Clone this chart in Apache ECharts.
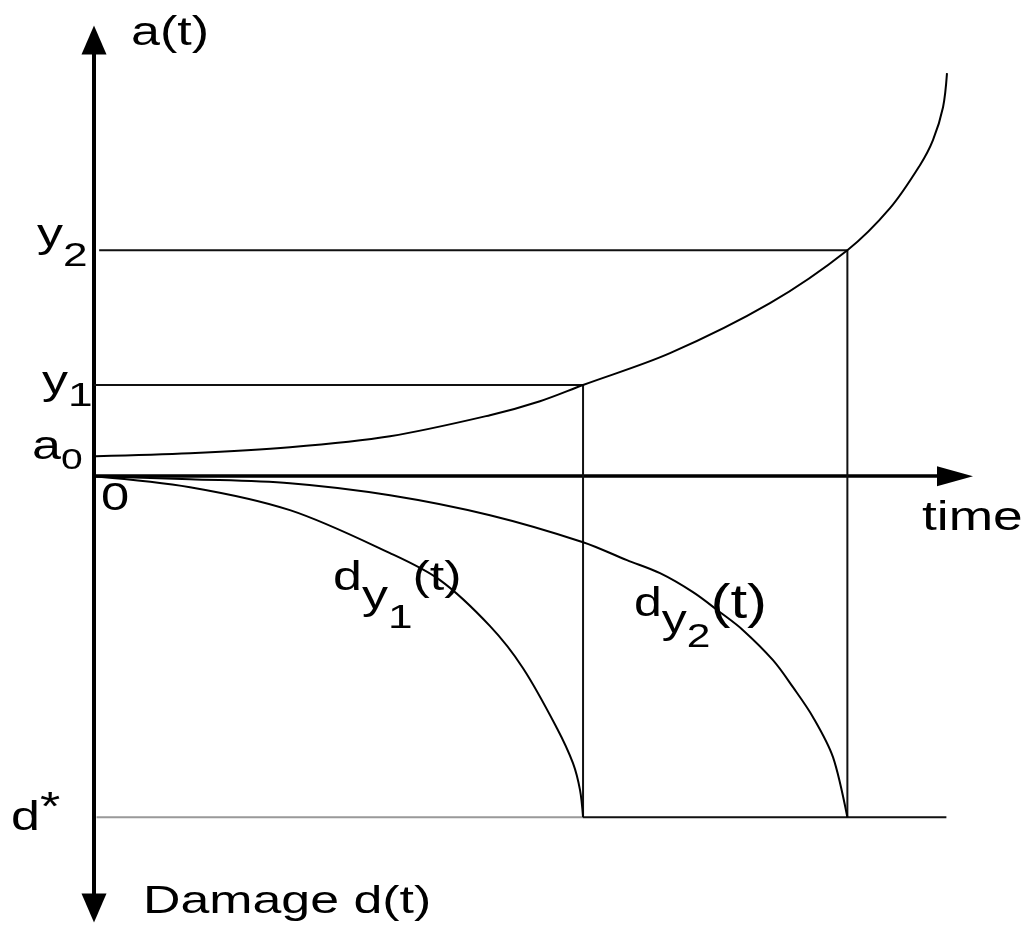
<!DOCTYPE html>
<html>
<head>
<meta charset="utf-8">
<script src="https://cdn.jsdelivr.net/npm/echarts@6/dist/echarts.min.js"></script>
<style>
html, body { margin: 0; padding: 0; background: #fff; }
#chart { width: 1028px; height: 926px; }
</style>
</head>
<body>
<div id="chart"></div>
<script>
// crack growth a(t)
const aTime  = [0.23, 11.15, 22.76, 34.38, 45.99, 51.8, 56.8, 66.9, 78.51, 87.5, 92.45, 95.93, 97.44, 98.61, 99.07];
const aLevel = [4.59, 5.27, 6.65, 9.17, 13.98, 17.19, 20.9, 28.2, 39.66, 51.8, 61.44, 71.3, 77.03, 84.59, 92.39];

// damage curves d_y1(t) and d_y2(t), drawn downward
const dy1Time  = [0, 11.15, 22.76, 34.38, 40.19, 46.0, 49.83, 53.77, 55.63, 56.45, 56.8];
const dy1Level = [0, -2.52, -7.79, -17.65, -23.84, -34.39, -44.02, -57.77, -65.8, -71.99, -78.2];
const dy2Time  = [0, 11.15, 22.76, 34.38, 45.99, 56.8, 61.9, 65.74, 69.57, 72.71, 75.38, 78.86, 81.18, 83.51, 85.83, 87.5];
const dy2Level = [0, -0.69, -1.6, -4.36, -8.94, -15.13, -19.26, -22.24, -26.59, -31.18, -35.3, -42.18, -48.37, -55.25, -64.42, -78.2];

// levels on the vertical axis and the times where the thresholds are hit
const levelNames  = ['a0', 'y1', 'y2', 'd*'];
const levelValues = [4.7, 20.9, 51.8, -78.2];
const hitTimes    = [56.8, 87.5];   // y1, y2
const lineEnd     = 99.0;

const A0 = levelValues[0], Y1 = levelValues[1], Y2 = levelValues[2], DSTAR = levelValues[3];

const chart = echarts.init(document.getElementById('chart'));
const font = '"Liberation Sans", Arial, sans-serif';
const ink = '#000';

function zip(xs, ys) { return xs.map((x, i) => [x, ys[i]]); }

function curve(name, xs, ys) {
    return {
        name: name, type: 'line', data: zip(xs, ys),
        smooth: 0.33, symbol: 'none', clip: false, silent: true, z: 3,
        lineStyle: { color: ink, width: 2 }
    };
}
function guide(name, pts, color) {
    return {
        name: name, type: 'line', data: pts, symbol: 'none', clip: false, silent: true, z: 2,
        lineStyle: { color: color, width: 2 }
    };
}

chart.setOption({
    animation: false,
    backgroundColor: '#fff',
    grid: { left: 94, top: 40, width: 861, height: 868 },
    xAxis: {
        type: 'value', min: 0, max: 100,
        axisLine: { onZero: true, symbol: ['none', 'triangle'], symbolSize: [20, 36],
                    lineStyle: { color: ink, width: 3.5 } },
        axisTick: { show: false }, axisLabel: { show: false }, splitLine: { show: false }
    },
    yAxis: {
        type: 'value', min: -99, max: 100,
        axisLine: { onZero: true, symbol: ['triangle', 'triangle'], symbolSize: [25, 29],
                    lineStyle: { color: ink, width: 4 } },
        axisTick: { show: false }, axisLabel: { show: false }, splitLine: { show: false }
    },
    series: [
        curve('a(t)', aTime, aLevel),
        curve('d_y1(t)', dy1Time, dy1Level),
        curve('d_y2(t)', dy2Time, dy2Level),
        guide('y1', [[0, Y1], [hitTimes[0], Y1], [hitTimes[0], DSTAR]], '#111'),
        guide('y2', [[0.6, Y2], [hitTimes[1], Y2], [hitTimes[1], DSTAR]], '#111'),
        guide('d* left', [[0.3, DSTAR], [hitTimes[0], DSTAR]], '#999'),
        guide('d* right', [[hitTimes[0], DSTAR], [lineEnd, DSTAR]], '#111')
    ]
});

// text: the original is stretched sideways, so texts get scaleX
function st(size, padTop, padBottom) {
    return { fontSize: size, fontFamily: font, fill: ink, padding: [padTop || 0, 0, padBottom || 0, 0] };
}
function label(anchor, dx, dy, text, rich, sx) {
    const p = chart.convertToPixel({ gridIndex: 0 }, anchor);
    return {
        type: 'text', x: p[0] + dx, y: p[1] + dy, scaleX: sx || 1.3, silent: true, z: 10,
        style: { text: text, rich: rich, fontFamily: font, fontSize: 40, fill: ink,
                 align: 'left', verticalAlign: 'middle' }
    };
}

chart.setOption({
    graphic: [
        label([0, 100], 37, -6, '{m|a(t)}', { m: st(40) }),
        label([100, 0], -33, 43, '{m|time}', { m: st(41) }),
        label([0, -99], 49, -6, '{m|Damage d(t)}', { m: st(39) }, 1.33),
        label([0, 0], 7, 23, '{m|0}', { m: st(39) }),
        label([0, Y2], -57, -14, '{m|y}{s|2}', { m: st(40), s: st(34, 40) }),
        label([0, Y1], -52, -2, '{m|y}{s|1}', { m: st(40), s: st(34, 28) }),
        label([0, A0], -62, -8, '{m|a}{s|0}', { m: st(40), s: st(30, 27) }),
        label([0, DSTAR], -83, 2, '{m|d}{u|*}', { m: st(40), u: st(40, 0, 20) }),
        label([0, 0], 239, 103, '{m|d}{s|y}{ss|1}{m|(t)}', { m: st(40), s: st(40, 38), ss: st(34, 78) }),
        label([0, 0], 540, 129, '{m|d}{s|y}{ss|2}{b|(t)}', { m: st(40), s: st(40, 34), ss: st(34, 64), b: st(48) }, 1.25)
    ]
});
</script>
</body>
</html>
